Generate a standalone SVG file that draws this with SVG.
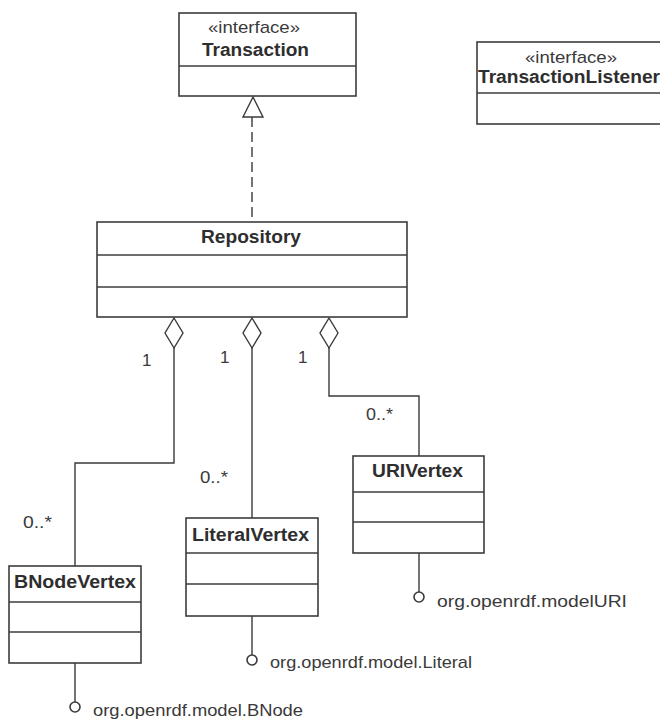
<svg xmlns="http://www.w3.org/2000/svg" width="660" height="720" viewBox="0 0 660 720">
  <style>
    .box { fill: #ffffff; stroke: #3c3c3c; stroke-width: 1.6; }
    .sep { stroke: #3c3c3c; stroke-width: 1.6; }
    .name { font-family: "Liberation Sans", Arial, sans-serif; font-size: 17.5px; font-weight: bold; fill: #2e2e2e; }
    .stereo { font-family: "Liberation Sans", Arial, sans-serif; font-size: 17px; fill: #3a3a3a; }
    .lbl { font-family: "Liberation Sans", Arial, sans-serif; font-size: 17px; fill: #3a3a3a; }
    .edge { fill: none; stroke: #3a3a3a; stroke-width: 1.4; }
    .agg { fill: #ffffff; stroke: #3a3a3a; stroke-width: 1.4; }
    .lolli { fill: #ffffff; stroke: #3a3a3a; stroke-width: 1.6; }
  </style>
  <rect width="660" height="720" fill="#ffffff"/>

  <!-- interfaces -->
  <g id="Transaction">
    <rect class="box" x="179" y="13" width="177" height="83"/>
    <line class="sep" x1="179" y1="66" x2="356" y2="66"/>
    <text class="stereo" x="208" y="33" textLength="92" lengthAdjust="spacingAndGlyphs">«interface»</text>
    <text class="name" x="202" y="56" textLength="107" lengthAdjust="spacingAndGlyphs">Transaction</text>
  </g>

  <g id="TransactionListener">
    <rect class="box" x="477" y="42" width="200" height="82"/>
    <line class="sep" x1="477" y1="93" x2="677" y2="93"/>
    <text class="stereo" x="525" y="63" textLength="92" lengthAdjust="spacingAndGlyphs">«interface»</text>
    <text class="name" x="478" y="83" textLength="182" lengthAdjust="spacingAndGlyphs">TransactionListener</text>
  </g>

  <!-- classes -->
  <g id="Repository">
    <rect class="box" x="97" y="222" width="310" height="95"/>
    <line class="sep" x1="97" y1="255" x2="407" y2="255"/>
    <line class="sep" x1="97" y1="287" x2="407" y2="287"/>
    <text class="name" x="201" y="243" textLength="100" lengthAdjust="spacingAndGlyphs">Repository</text>
  </g>

  <g id="URIVertex">
    <rect class="box" x="353" y="456" width="131" height="97"/>
    <line class="sep" x1="353" y1="492" x2="484" y2="492"/>
    <line class="sep" x1="353" y1="522" x2="484" y2="522"/>
    <text class="name" x="372" y="477" textLength="91" lengthAdjust="spacingAndGlyphs">URIVertex</text>
  </g>

  <g id="LiteralVertex">
    <rect class="box" x="186" y="518" width="132" height="98"/>
    <line class="sep" x1="186" y1="553" x2="318" y2="553"/>
    <line class="sep" x1="186" y1="584" x2="318" y2="584"/>
    <text class="name" x="192" y="541" textLength="117" lengthAdjust="spacingAndGlyphs">LiteralVertex</text>
  </g>

  <g id="BNodeVertex">
    <rect class="box" x="9" y="566" width="132" height="97"/>
    <line class="sep" x1="9" y1="602" x2="141" y2="602"/>
    <line class="sep" x1="9" y1="632" x2="141" y2="632"/>
    <text class="name" x="14" y="588" textLength="122" lengthAdjust="spacingAndGlyphs">BNodeVertex</text>
  </g>

  <!-- relationships -->
  <g id="connectors">
    <!-- realization: Repository implements Transaction -->
    <line class="edge" x1="252" y1="117" x2="252" y2="222" stroke-dasharray="10 5"/>
    <polygon class="agg" points="253,97 263,117 243,117"/>

    <!-- aggregations from Repository -->
    <path class="edge" d="M174,348 V463 H75 V566"/>
    <path class="edge" d="M252,348 V518"/>
    <path class="edge" d="M329,348 V396 H419 V456"/>
    <polygon class="agg" points="174,318 183,333 174,348 165,333"/>
    <polygon class="agg" points="252,318 261,333 252,348 243,333"/>
    <polygon class="agg" points="329,318 338,333 329,348 320,333"/>

    <text class="lbl" x="142" y="366">1</text>
    <text class="lbl" x="220" y="363">1</text>
    <text class="lbl" x="298" y="363">1</text>
    <text class="lbl" x="366" y="420" textLength="27" lengthAdjust="spacingAndGlyphs">0..*</text>
    <text class="lbl" x="200" y="483" textLength="28" lengthAdjust="spacingAndGlyphs">0..*</text>
    <text class="lbl" x="23" y="528" textLength="29" lengthAdjust="spacingAndGlyphs">0..*</text>

    <!-- provided interfaces (lollipops) -->
    <line class="edge" x1="419" y1="553" x2="419" y2="592"/>
    <circle class="lolli" cx="419" cy="597" r="5"/>
    <text class="lbl" x="437" y="607" textLength="190" lengthAdjust="spacingAndGlyphs">org.openrdf.modelURI</text>

    <line class="edge" x1="252" y1="616" x2="252" y2="655"/>
    <circle class="lolli" cx="252" cy="660" r="5"/>
    <text class="lbl" x="270" y="668" textLength="202" lengthAdjust="spacingAndGlyphs">org.openrdf.model.Literal</text>

    <line class="edge" x1="75" y1="663" x2="75" y2="702"/>
    <circle class="lolli" cx="75" cy="707" r="5"/>
    <text class="lbl" x="93" y="716" textLength="210" lengthAdjust="spacingAndGlyphs">org.openrdf.model.BNode</text>
  </g>
</svg>
